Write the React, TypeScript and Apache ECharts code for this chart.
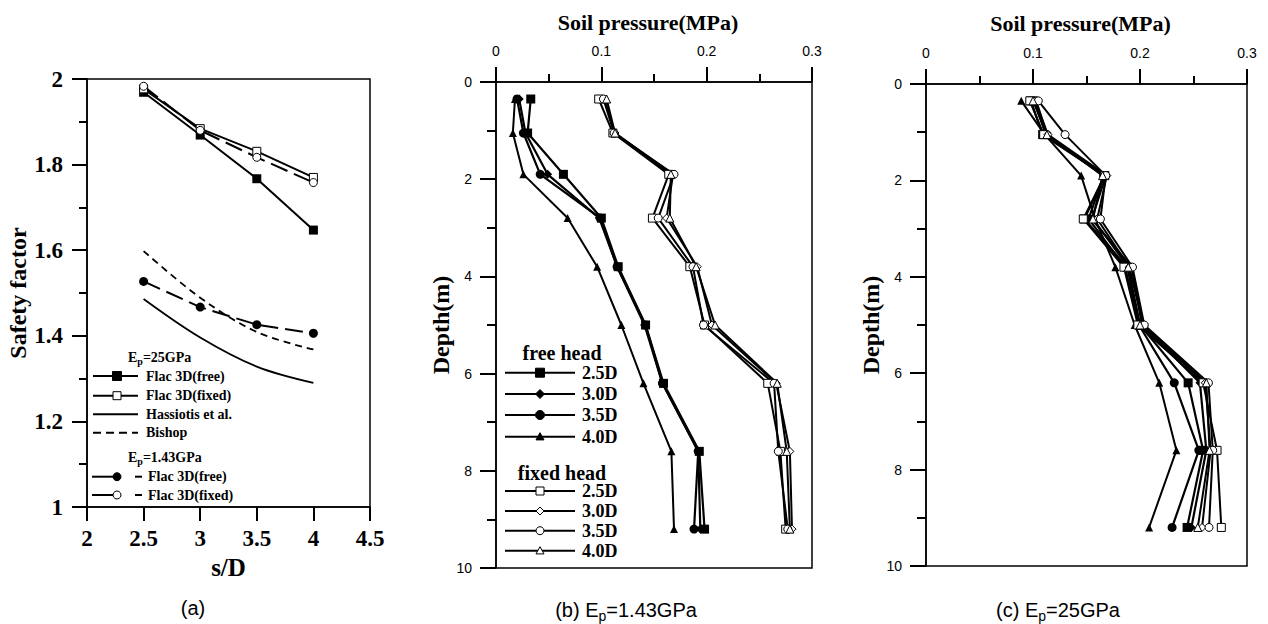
import React, { useEffect, useRef } from "react";
import * as echarts from "echarts";

// ---------- data: panel (a) ----------
const sD = [2.5, 3, 3.5, 4];
const aFree25 = [1.969, 1.869, 1.767, 1.647];
const aFixed25 = [1.977, 1.884, 1.831, 1.77];
const aHassiotis = [1.486, 1.396, 1.328, 1.29];
const aBishop = [1.598, 1.489, 1.409, 1.368];
const aFree143 = [1.527, 1.467, 1.426, 1.406];
const aFixed143 = [1.983, 1.88, 1.817, 1.758];

// ---------- data: panels (b), (c) ----------
const depths = [0.35, 1.05, 1.9, 2.8, 3.8, 5.0, 6.2, 7.6, 9.2];
const pressureTicks = [0, 0.1, 0.2, 0.3];
const depthTicks = [0, 2, 4, 6, 8, 10];

const bFree25 = [0.033, 0.03, 0.064, 0.1, 0.116, 0.142, 0.159, 0.193, 0.198];
const bFree30 = [0.022, 0.028, 0.049, 0.098, 0.115, 0.141, 0.158, 0.192, 0.194];
const bFree35 = [0.02, 0.026, 0.042, 0.099, 0.115, 0.142, 0.158, 0.192, 0.188];
const bFree40 = [0.018, 0.016, 0.026, 0.068, 0.096, 0.119, 0.14, 0.1665, 0.169];
const bFixed25 = [0.0975, 0.111, 0.164, 0.1485, 0.184, 0.198, 0.258, 0.27, 0.275];
const bFixed30 = [0.103, 0.113, 0.168, 0.162, 0.191, 0.205, 0.266, 0.279, 0.281];
const bFixed35 = [0.102, 0.112, 0.169, 0.154, 0.187, 0.197, 0.264, 0.268, 0.277];
const bFixed40 = [0.105, 0.113, 0.166, 0.165, 0.19, 0.208, 0.267, 0.276, 0.279];

const cFree25 = [0.098, 0.109, 0.167, 0.148, 0.188, 0.2, 0.245, 0.259, 0.244];
const cFree30 = [0.101, 0.112, 0.168, 0.155, 0.192, 0.202, 0.256, 0.262, 0.248];
const cFree35 = [0.103, 0.113, 0.166, 0.152, 0.186, 0.199, 0.232, 0.255, 0.23];
const cFree40 = [0.089, 0.111, 0.145, 0.158, 0.177, 0.195, 0.218, 0.234, 0.2085];
const cFixed25 = [0.097, 0.11, 0.167, 0.147, 0.185, 0.198, 0.259, 0.272, 0.276];
const cFixed30 = [0.102, 0.114, 0.169, 0.16, 0.19, 0.203, 0.261, 0.266, 0.258];
const cFixed35 = [0.105, 0.13, 0.168, 0.163, 0.193, 0.204, 0.264, 0.268, 0.2645];
const cFixed40 = [0.1, 0.113, 0.165, 0.156, 0.189, 0.2, 0.262, 0.265, 0.254];

const SERIF = "'Liberation Serif', 'DejaVu Serif', serif";
const SANS = "'Liberation Sans', Arial, sans-serif";
const BLACK = "#000";

type Sym = "rect" | "circle" | "diamond" | "triangle" | "none";

function lineSeries(
  name: string,
  data: number[][],
  axis: number,
  symbol: Sym,
  filled: boolean,
  size: number,
  dash: any,
  width: number,
  smooth: boolean | number = false
) {
  return {
    type: "line",
    name,
    xAxisIndex: axis,
    yAxisIndex: axis,
    data,
    symbol,
    symbolSize: size,
    showSymbol: symbol !== "none",
    smooth,
    itemStyle: {
      color: filled ? BLACK : "#fff",
      borderColor: BLACK,
      borderWidth: filled ? 0 : 1,
    },
    lineStyle: { color: BLACK, width, type: dash },
    emphasis: { disabled: true },
  };
}

const pair = (vals: number[]) => vals.map((p, i) => [p, depths[i]]);
const pairA = (vals: number[]) => vals.map((v, i) => [sD[i], v]);

function marker(sym: Sym, cx: number, cy: number, s: number, filled: boolean) {
  const style = { fill: filled ? BLACK : "#fff", stroke: BLACK, lineWidth: 1 };
  const h = s / 2;
  if (sym === "rect") return { type: "rect", shape: { x: cx - h, y: cy - h, width: s, height: s }, style };
  if (sym === "circle") return { type: "circle", shape: { cx, cy, r: h }, style };
  if (sym === "diamond")
    return { type: "polygon", shape: { points: [[cx, cy - h], [cx + h, cy], [cx, cy + h], [cx - h, cy]] }, style };
  if (sym === "triangle")
    return { type: "polygon", shape: { points: [[cx, cy - h], [cx + h, cy + h * 0.8], [cx - h, cy + h * 0.8]] }, style };
  return null;
}

function txt(text: string, x: number, y: number, size: number, family: string, weight: string, align = "left") {
  return {
    type: "text",
    x,
    y,
    style: {
      text,
      fill: BLACK,
      fontSize: size,
      fontFamily: family,
      fontWeight: weight,
      align,
      textAlign: align,
      verticalAlign: "middle",
      textVerticalAlign: "middle",
    },
  };
}

function subText(pre: string, sub: string, post: string, x: number, y: number, size: number, family: string, weight: string, align = "left") {
  const base = { fontSize: size, fontFamily: family, fontWeight: weight, fill: BLACK };
  return {
    type: "text",
    x,
    y,
    style: {
      text: `{m|${pre}}{s|${sub}}{m|${post}}`,
      fill: BLACK,
      fontSize: size,
      fontFamily: family,
      fontWeight: weight,
      align,
      textAlign: align,
      verticalAlign: "middle",
      textVerticalAlign: "middle",
      rich: {
        m: base,
        s: { ...base, fontSize: Math.round(size * 0.72), padding: [Math.round(size * 0.55), 0, 0, 0] },
      },
    },
  };
}

function legendItem(
  y: number, x1: number, x2: number, mx: number, tx: number,
  sym: Sym, filled: boolean, size: number, label: string, fontSize: number, dash?: number[]
) {
  const els: any[] = [
    { type: "line", shape: { x1, y1: y, x2, y2: y }, style: { stroke: BLACK, lineWidth: 2, lineDash: dash || null } },
  ];
  const m = marker(sym, mx, y, size, filled);
  if (m) els.push(m);
  els.push(txt(label, tx, y, fontSize, SERIF, "bold"));
  return els;
}

const axisLine = () => ({ show: true, onZero: false, lineStyle: { color: BLACK, width: 1.5 } });
const major = (len: number) => ({ show: true, inside: false, length: len, lineStyle: { color: BLACK, width: 2 } });
const minor = (len: number) => ({ show: true, splitNumber: 2, length: len, lineStyle: { color: BLACK, width: 2 } });

function buildOption() {
  const grid = [
    { left: 87, top: 79, width: 283, height: 428, show: true, borderColor: BLACK, borderWidth: 1.5 },
    { left: 496, top: 82, width: 316, height: 486, show: true, borderColor: BLACK, borderWidth: 1.5 },
    { left: 926, top: 84, width: 321, height: 482, show: true, borderColor: BLACK, borderWidth: 1.5 },
  ];

  const pressureAxis = (gi: number, gap: number) => ({
    type: "value",
    gridIndex: gi,
    position: "top",
    min: pressureTicks[0],
    max: pressureTicks[pressureTicks.length - 1],
    interval: 0.1,
    axisLine: axisLine(),
    axisTick: major(15),
    minorTick: minor(8),
    splitLine: { show: false },
    axisLabel: { color: BLACK, fontFamily: SANS, fontSize: 14, margin: 24 },
    name: "Soil pressure(MPa)",
    nameLocation: "middle",
    nameGap: gap,
    nameTextStyle: { color: BLACK, fontFamily: SERIF, fontWeight: "bold", fontSize: 22, padding: [0, 12, 0, 0] },
  });

  const depthAxis = (gi: number) => ({
    type: "value",
    gridIndex: gi,
    inverse: true,
    min: depthTicks[0],
    max: depthTicks[depthTicks.length - 1],
    interval: 2,
    axisLine: axisLine(),
    axisTick: major(16),
    minorTick: minor(9),
    splitLine: { show: false },
    axisLabel: { color: BLACK, fontFamily: SANS, fontSize: 14, margin: 24 },
    name: "Depth(m)",
    nameLocation: "middle",
    nameGap: 40,
    nameTextStyle: { color: BLACK, fontFamily: SERIF, fontWeight: "bold", fontSize: 24 },
  });

  const xAxis = [
    {
      type: "value",
      gridIndex: 0,
      min: 2,
      max: 4.5,
      interval: 0.5,
      axisLine: axisLine(),
      axisTick: major(14),
      splitLine: { show: false },
      axisLabel: { color: BLACK, fontFamily: SERIF, fontWeight: "bold", fontSize: 23, margin: 20 },
      name: "s/D",
      nameLocation: "middle",
      nameGap: 43,
      nameTextStyle: { color: BLACK, fontFamily: SERIF, fontWeight: "bold", fontSize: 25 },
    },
    pressureAxis(1, 49),
    pressureAxis(2, 50),
  ];

  const yAxis = [
    {
      type: "value",
      gridIndex: 0,
      min: 1,
      max: 2,
      interval: 0.2,
      axisLine: axisLine(),
      axisTick: major(15),
      minorTick: minor(8),
      splitLine: { show: false },
      axisLabel: { color: BLACK, fontFamily: SERIF, fontWeight: "bold", fontSize: 23, margin: 24 },
      name: "Safety factor",
      nameLocation: "middle",
      nameGap: 53,
      nameTextStyle: { color: BLACK, fontFamily: SERIF, fontWeight: "bold", fontSize: 24 },
    },
    depthAxis(1),
    depthAxis(2),
  ];

  const longDash = [18, 7];
  const shortDash = [7, 5];

  const series: any[] = [
    lineSeries("Ep=25GPa Flac 3D(free)", pairA(aFree25), 0, "rect", true, 9, "solid", 2),
    lineSeries("Ep=25GPa Flac 3D(fixed)", pairA(aFixed25), 0, "rect", false, 8, "solid", 2),
    lineSeries("Hassiotis et al.", pairA(aHassiotis), 0, "none", true, 0, "solid", 1.8, 0.35),
    lineSeries("Bishop", pairA(aBishop), 0, "none", true, 0, shortDash, 1.8, 0.35),
    lineSeries("Ep=1.43GPa Flac 3D(free)", pairA(aFree143), 0, "circle", true, 9, longDash, 2),
    lineSeries("Ep=1.43GPa Flac 3D(fixed)", pairA(aFixed143), 0, "circle", false, 8, longDash, 2),

    lineSeries("(b) free 2.5D", pair(bFree25), 1, "rect", true, 9, "solid", 2.2),
    lineSeries("(b) free 3.0D", pair(bFree30), 1, "diamond", true, 9, "solid", 2.2),
    lineSeries("(b) free 3.5D", pair(bFree35), 1, "circle", true, 9, "solid", 2.2),
    lineSeries("(b) free 4.0D", pair(bFree40), 1, "triangle", true, 8, "solid", 2),
    lineSeries("(b) fixed 2.5D", pair(bFixed25), 1, "rect", false, 8, "solid", 2),
    lineSeries("(b) fixed 3.0D", pair(bFixed30), 1, "diamond", false, 8, "solid", 2),
    lineSeries("(b) fixed 3.5D", pair(bFixed35), 1, "circle", false, 8, "solid", 2),
    lineSeries("(b) fixed 4.0D", pair(bFixed40), 1, "triangle", false, 8, "solid", 2),

    lineSeries("(c) free 2.5D", pair(cFree25), 2, "rect", true, 9, "solid", 2.2),
    lineSeries("(c) free 3.0D", pair(cFree30), 2, "diamond", true, 9, "solid", 2.2),
    lineSeries("(c) free 3.5D", pair(cFree35), 2, "circle", true, 9, "solid", 2.2),
    lineSeries("(c) free 4.0D", pair(cFree40), 2, "triangle", true, 8, "solid", 2),
    lineSeries("(c) fixed 2.5D", pair(cFixed25), 2, "rect", false, 8, "solid", 2),
    lineSeries("(c) fixed 3.0D", pair(cFixed30), 2, "diamond", false, 8, "solid", 2),
    lineSeries("(c) fixed 3.5D", pair(cFixed35), 2, "circle", false, 8, "solid", 2),
    lineSeries("(c) fixed 4.0D", pair(cFixed40), 2, "triangle", false, 8, "solid", 2),
  ];

  const g: any[] = [];
  g.push(subText("E", "p", "=25GPa", 128, 357, 14, SERIF, "bold"));
  g.push(...legendItem(376, 93, 138, 117, 146, "rect", true, 9, "Flac 3D(free)", 14));
  g.push(...legendItem(395.7, 93, 138, 117, 146, "rect", false, 8, "Flac 3D(fixed)", 14));
  g.push(...legendItem(414.3, 93, 138, 117, 146, "none", true, 0, "Hassiotis et al.", 14));
  g.push(...legendItem(432.7, 93, 138, 117, 146, "none", true, 0, "Bishop", 14, [8, 5]));
  g.push(subText("E", "p", "=1.43GPa", 128, 457, 14, SERIF, "bold"));
  [
    { y: 476.7, filled: true, label: "Flac 3D(free)" },
    { y: 495, filled: false, label: "Flac 3D(fixed)" },
  ].forEach((it) => {
    g.push({ type: "line", shape: { x1: 92, y1: it.y, x2: 114, y2: it.y }, style: { stroke: BLACK, lineWidth: 2 } });
    g.push(marker("circle", 117, it.y, 8, it.filled));
    g.push({ type: "line", shape: { x1: 135, y1: it.y, x2: 142, y2: it.y }, style: { stroke: BLACK, lineWidth: 2 } });
    g.push(txt(it.label, 148, it.y, 14, SERIF, "bold"));
  });

  g.push(txt("free head", 562, 353, 20, SERIF, "bold", "center"));
  const syms: Sym[] = ["rect", "diamond", "circle", "triangle"];
  const labs = ["2.5D", "3.0D", "3.5D", "4.0D"];
  const freeY = [372.7, 394, 415, 436.7];
  const fixedY = [491, 511, 530.7, 550.7];
  syms.forEach((s, i) => g.push(...legendItem(freeY[i], 505, 575, 540, 582, s, true, s === "triangle" ? 8 : 9, labs[i], 18)));
  g.push(txt("fixed head", 562, 472.7, 20, SERIF, "bold", "center"));
  syms.forEach((s, i) => g.push(...legendItem(fixedY[i], 505, 575, 540, 582, s, false, 8, labs[i], 18)));

  g.push(txt("(a)", 193, 608, 20, SANS, "normal", "center"));
  g.push(subText("(b) E", "p", "=1.43GPa", 626, 610, 20, SANS, "normal", "center"));
  g.push(subText("(c) E", "p", "=25GPa", 1058, 610, 20, SANS, "normal", "center"));

  return {
    animation: false,
    backgroundColor: "#fff",
    grid,
    xAxis,
    yAxis,
    series,
    graphic: { elements: g.map((e) => ({ ...e, silent: true })) },
  };
}

export default function App() {
  const ref = useRef<HTMLDivElement>(null);
  useEffect(() => {
    if (!ref.current) return;
    const chart = echarts.init(ref.current, null, { renderer: "svg" });
    chart.setOption(buildOption() as any);
    return () => chart.dispose();
  }, []);
  return (
    <div
      ref={ref}
      style={{ position: "absolute", left: 0, top: 0, width: 1268, height: 624, background: "#fff" }}
    />
  );
}
